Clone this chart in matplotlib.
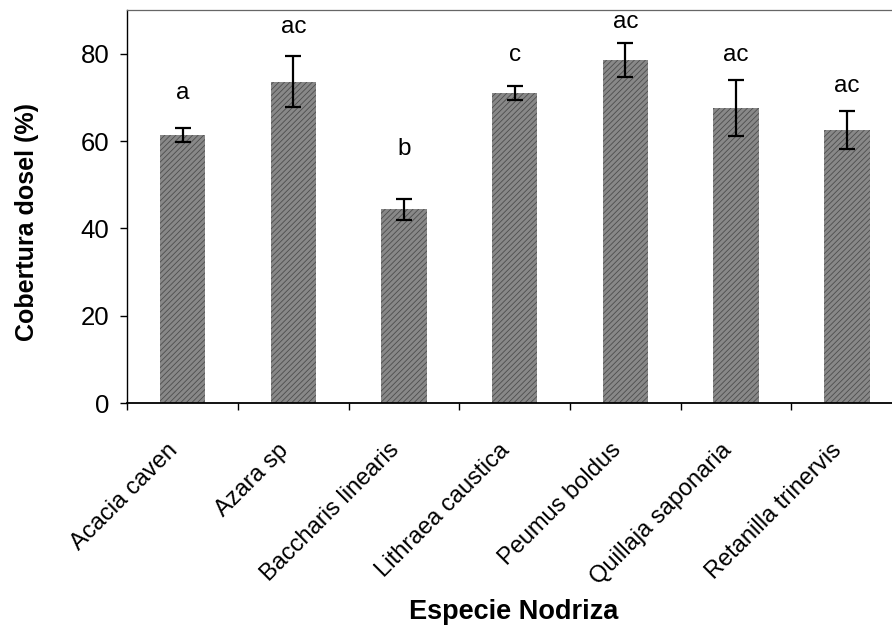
import numpy as np
import matplotlib
import matplotlib.pyplot as plt
import matplotlib.transforms as mtransforms

matplotlib.use('Agg')

plt.rcParams['font.family'] = ['Liberation Sans', 'DejaVu Sans']
plt.rcParams['hatch.linewidth'] = 0.6

especies = ["Acacia caven", "Azara sp", "Baccharis linearis", "Lithraea caustica",
            "Peumus boldus", "Quillaja saponaria", "Retanilla trinervis"]
cobertura = [61.4, 73.6, 44.4, 71.0, 78.5, 67.6, 62.5]
error_std = [1.6, 5.9, 2.4, 1.6, 3.9, 6.4, 4.3]
letras = ["a", "ac", "b", "c", "ac", "ac", "ac"]
letras_y = [70.9, 86.2, 58.1, 79.8, 87.2, 79.8, 72.5]

fig = plt.figure(figsize=(8.92, 6.32), dpi=100)
ax = fig.add_axes([0.1428, 0.3623, 0.8686, 0.6218])

x = np.arange(len(especies))
ax.bar(x, cobertura, width=0.41, color='#888888', edgecolor='#4d4d4d',
       hatch='//////', linewidth=0, zorder=2)
ax.errorbar(x, cobertura, yerr=error_std, fmt='none', ecolor='black',
            elinewidth=1.6, capsize=6, capthick=1.6, zorder=3)

for xi, txt, ty in zip(x, letras, letras_y):
    ax.text(xi, ty, txt, ha='center', va='center', fontsize=17.5)

ax.set_xlim(-0.5, len(especies) - 0.5)
ax.set_ylim(0, 90)
ax.set_yticks([0, 20, 40, 60, 80])

# category ticks sit between the bars, labels hang under each bar
ax.set_xticks(np.arange(len(especies) + 1) - 0.5)
ax.set_xticklabels([])
ax.set_xticks(x, minor=True)
ax.set_xticklabels(especies, minor=True, rotation=45, ha='right', va='center',
                   rotation_mode='anchor', fontsize=17)
ax.tick_params(axis='x', which='minor', length=0, pad=0)
offset = mtransforms.ScaledTranslation(-8 / 100, -44 / 100, fig.dpi_scale_trans)
for lbl in ax.get_xticklabels(minor=True):
    lbl.set_transform(lbl.get_transform() + offset)

ax.tick_params(axis='x', which='major', length=5, width=1, direction='out')
ax.tick_params(axis='y', length=5, width=1, direction='out', labelsize=18.5, pad=8)

ax.spines['right'].set_visible(False)
ax.spines['top'].set_color('#666666')
ax.spines['top'].set_linewidth(0.9)
ax.spines['left'].set_linewidth(1.0)
ax.spines['bottom'].set_linewidth(1.3)

ax.set_ylabel("Cobertura dosel (%)", fontsize=18, fontweight='bold')
ax.yaxis.set_label_coords(-0.114, 0.46)
fig.text(0.576, 0.032, "Especie Nodriza", ha='center', va='center',
         fontsize=19.5, fontweight='bold')

plt.savefig("out.png", dpi=100)
